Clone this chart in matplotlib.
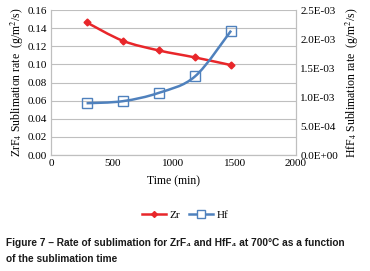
import matplotlib
matplotlib.use("Agg")
import matplotlib.pyplot as plt
import numpy as np
from matplotlib.path import Path
from matplotlib.patches import PathPatch
from matplotlib.lines import Line2D

plt.rcParams["mathtext.fontset"] = "stix"

time_min = [290, 585, 880, 1175, 1470]
zr_rate = [0.1464, 0.1261, 0.1154, 0.1077, 0.0992]
hf_rate = [8.93e-4, 9.28e-4, 1.072e-3, 1.355e-3, 2.144e-3]

x_ticks = [0, 500, 1000, 1500, 2000]
left_ticks = [0.00, 0.02, 0.04, 0.06, 0.08, 0.10, 0.12, 0.14, 0.16]
right_ticks = [0.0, 5.0e-4, 1.0e-3, 1.5e-3, 2.0e-3, 2.5e-3]

RED = "#E8262A"
BLUE = "#4F81BD"
GRID = "#BFBFBF"
serif = "Liberation Serif"

def smooth_path(ax, xs, ys, color):
    xs = np.asarray(xs, float); ys = np.asarray(ys, float)
    verts = [(xs[0], ys[0])]
    codes = [Path.MOVETO]
    n = len(xs)
    t = 1/6
    for i in range(n - 1):
        p0 = (xs[max(i-1, 0)], ys[max(i-1, 0)])
        p1 = (xs[i], ys[i]); p2 = (xs[i+1], ys[i+1])
        p3 = (xs[min(i+2, n-1)], ys[min(i+2, n-1)])
        c1 = (p1[0] + (p2[0]-p0[0])*t, p1[1] + (p2[1]-p0[1])*t)
        c2 = (p2[0] - (p3[0]-p1[0])*t, p2[1] - (p3[1]-p1[1])*t)
        verts += [c1, c2, p2]
        codes += [Path.CURVE4]*3
    ax.add_patch(PathPatch(Path(verts, codes), fill=False, edgecolor=color, lw=1.8, zorder=3))

fig = plt.figure(figsize=(3.70, 2.71), dpi=100)
ax = fig.add_axes([0.138, 0.428, 0.662, 0.535])
ax2 = ax.twinx()

ax.set_xlim(0, 2000)
ax.set_ylim(0, 0.16)
ax2.set_ylim(0, 2.5e-3)
ax.set_xticks(x_ticks)
ax.set_yticks(left_ticks)
ax2.set_yticks(right_ticks)
ax.set_xticklabels([str(v) for v in x_ticks], fontfamily=serif, fontsize=8)
ax.set_yticklabels([f"{v:.2f}" for v in left_ticks], fontfamily=serif, fontsize=8)
ax2.set_yticklabels([f"{v:.1E}" for v in right_ticks], fontfamily=serif, fontsize=8)
ax.grid(axis="y", color=GRID, lw=0.8)
ax.set_axisbelow(True)
for a in (ax, ax2):
    a.tick_params(length=0, pad=3)
    for s in a.spines.values():
        s.set_color(GRID)
    a.spines["top"].set_visible(False)

smooth_path(ax, time_min, zr_rate, RED)
ax.plot(time_min, zr_rate, ls="none", marker="D", ms=3.5, color=RED, zorder=4)
smooth_path(ax2, time_min, hf_rate, BLUE)
ax2.plot(time_min, hf_rate, ls="none", marker="s", ms=7, mfc="none", mec=BLUE, mew=1.0, zorder=4)

ax.set_xlabel("Time (min)", fontfamily=serif, fontsize=8.5, labelpad=5)
ax.set_ylabel("ZrF$_4$ Sublimation rate  (g/m$^2$/s)", fontfamily=serif, fontsize=8.5, labelpad=1)
ax2.set_ylabel("HfF$_4$ Sublimation rate  (g/m$^2$/s)", fontfamily=serif, fontsize=8.5, labelpad=4)

handles = [Line2D([], [], color=RED, lw=1.8, marker="D", ms=3),
           Line2D([], [], color=BLUE, lw=1.8, marker="s", ms=6, mfc="white", mec=BLUE)]
fig.legend(handles, ["Zr", "Hf"], loc="center", bbox_to_anchor=(0.5, 0.208), ncol=2, frameon=False,
           prop={"family": serif, "size": 8}, handlelength=2.2, columnspacing=0.8, handletextpad=0.3)

cap_font = ["Liberation Sans", "DejaVu Sans"]
fig.text(0.016, 0.103, "Figure 7 – Rate of sublimation for ZrF₄ and HfF₄ at 700°C as a function",
         fontfamily=cap_font, fontweight="bold", fontsize=7.3, va="center", color="#1a1a1a")
fig.text(0.016, 0.045, "of the sublimation time",
         fontfamily=cap_font, fontweight="bold", fontsize=7.3, va="center", color="#1a1a1a")

fig.savefig("out.png", dpi=100)
